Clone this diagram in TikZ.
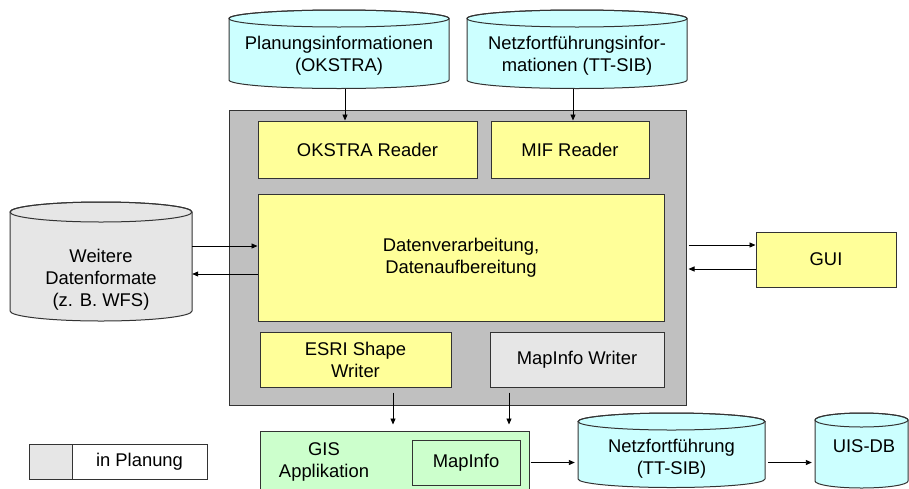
\documentclass[tikz,border=0pt]{standalone}
\usepackage{fontspec}
\setmainfont{Liberation Sans}
\usetikzlibrary{arrows.meta,calc}
\definecolor{cyanfill}{HTML}{CCFFFF}
\definecolor{yel}{HTML}{FFFF99}
\definecolor{grayfill}{HTML}{C0C0C0}
\definecolor{lgray}{HTML}{E6E6E6}
\definecolor{grn}{HTML}{CCFFCC}
\definecolor{edge}{HTML}{333333}
\newcommand{\drawcyl}[6]{%
  \pgfmathsetmacro\cylcx{(#1+#2)/2}%
  \pgfmathsetmacro\cylrx{(#2-#1)/2}%
  \filldraw[cylbody, fill=#6] (#1,#3+#5) -- (#1,#4)
    arc[start angle=180, end angle=0, x radius=\cylrx, y radius=#5]
    -- (#2,#3+#5)
    arc[start angle=0, end angle=-180, x radius=\cylrx, y radius=#5] -- cycle;
  \draw[cylbody] (\cylcx,#3+#5) ellipse[x radius=\cylrx, y radius=#5];
}
\begin{document}
\begin{tikzpicture}[x=1pt, y=-1pt,
  font=\fontsize{18.4}{22}\selectfont,
  box/.style={draw=edge, line width=1pt, inner sep=0pt, align=center},
  cylbody/.style={draw=edge, line width=1pt},
  shapenode/.style={inner sep=0pt, minimum width=#1},
  txt/.style={inner sep=0pt, align=center},
  arr/.style={-{Triangle[length=6pt,width=5pt]}, line width=0.9pt, draw=black}]
\useasboundingbox (0,0) rectangle (909,488);
\clip (0,0) rectangle (909,488);
\fill[white] (0,0) rectangle (909,488);

% cylinders
\drawcyl{229}{449}{10}{80}{8.5}{cyanfill}
\drawcyl{467}{687}{10}{80}{8.5}{cyanfill}
\drawcyl{10}{192}{202}{311}{10}{lgray}
\drawcyl{578}{765}{413}{479}{8.5}{cyanfill}
\drawcyl{815}{908}{413}{481}{7}{cyanfill}

\node[shapenode=220, minimum height=78.5] (c1) at (339,49.25) {};
\node[shapenode=220, minimum height=78.5] (c2) at (577,49.25) {};
\node[shapenode=182, minimum height=119] (c3) at (101,261.5) {};
\node[shapenode=187, minimum height=74.5] (c4) at (671.5,450.25) {};
\node[shapenode=93, minimum height=75] (c5) at (861.5,450.5) {};

\node[txt] (t1) at (339,55.5) {Planungsinformationen\\(OKSTRA)};
\node[txt] (t2) at (577,55.5) {Netzfortführungsinfor-\\mationen (TT-SIB)};
\node[txt] (t3) at (101,280) {Weitere\\Datenformate\\(z. B. WFS)};
\node[txt] (t4) at (671.5,458.5) {Netzfortführung\\(TT-SIB)};
\node[txt] (t5) at (864,446) {UIS-DB};

% processing block
\node[box, fill=grayfill, minimum width=457, minimum height=295] (proc) at (457.5,257.5) {};
\node[box, fill=yel, minimum width=219, minimum height=57] (okr) at (367.5,149.5) {OKSTRA Reader};
\node[box, fill=yel, minimum width=158, minimum height=57] (mif) at (570,149.5) {MIF Reader};
\node[box, fill=yel, minimum width=406, minimum height=127] (dv) at (461,257.5) {Datenverarbeitung,\\Datenaufbereitung};
\node[box, fill=yel, minimum width=191, minimum height=55] (esri) at (355.5,359.5) {ESRI Shape\\Writer};
\node[box, fill=lgray, minimum width=174, minimum height=55] (miw) at (577,359.5) {MapInfo Writer};

\node[box, fill=yel, minimum width=140, minimum height=55] (gui) at (826,259.5) {GUI};

% GIS application
\node[box, fill=grn, minimum width=269, minimum height=70] (gis) at (394.5,466) {};
\node[txt] (gist) at (324,462) {GIS\\Applikation};
\node[box, fill=grn, minimum width=108, minimum height=45] (mi) at (466,462.5) {MapInfo};

% legend
\node[box, fill=lgray, minimum width=43, minimum height=35] (lg1) at (50.5,461.5) {};
\node[box, fill=white, minimum width=135, minimum height=35] (lg2) at (139.5,461.5) {in Planung};

% connectors
\draw[arr] ([xshift=6pt]c1.south) -- ([xshift=6pt]c1.south |- okr.north);
\draw[arr] ([xshift=-4pt]c2.south) -- ([xshift=-4pt]c2.south |- mif.north);

\coordinate (l1) at ([yshift=11.5pt]dv.west);
\coordinate (l2) at ([yshift=-16.5pt]dv.west);
\draw[arr] (l1 -| c3.east) -- (l1);
\draw[arr] (l2) -- (l2 -| c3.east);

\coordinate (r1) at ([yshift=14.5pt]gui.west);
\coordinate (r2) at ([yshift=-9.5pt]gui.west);
\draw[arr, shorten <=2pt] (r1 -| proc.east) -- (r1);
\draw[arr, shorten >=2pt] (r2) -- (r2 -| proc.east);

\coordinate (d1) at ([xshift=37.5pt,yshift=-5pt]esri.south);
\coordinate (d2) at ([xshift=-68pt,yshift=-5pt]miw.south);
\draw[arr, shorten >=6pt] (d1) -- (d1 |- gis.north);
\draw[arr, shorten >=6pt] (d2) -- (d2 |- gis.north);

\draw[arr, shorten <=1pt, shorten >=3pt] (mi.east -| gis.east) -- (mi.east -| c4.west);
\draw[arr, shorten <=3pt, shorten >=3pt] (mi.east -| c4.east) -- (mi.east -| c5.west);
\end{tikzpicture}
\end{document}
